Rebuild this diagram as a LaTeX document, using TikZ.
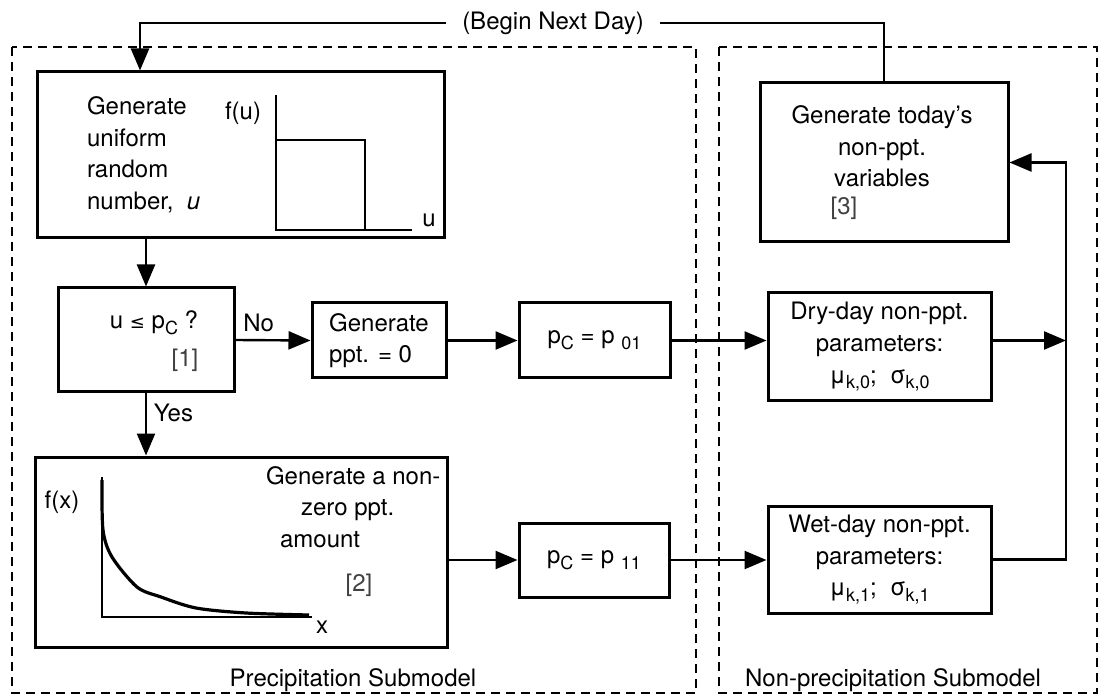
\documentclass[tikz,border=0pt]{standalone}
\usepackage{fontspec}
\setmainfont{TeX Gyre Heros}
\newfontfamily\symf{DejaVu Sans}
\usepackage{tikz}
\usetikzlibrary{arrows.meta,positioning}
\definecolor{taggray}{gray}{0.25}
\newcommand{\lowsub}[1]{\raisebox{-0.45ex}{\small #1}}

\begin{document}
\begin{tikzpicture}[x=0.5pt,y=-0.5pt,
    every node/.style={font=\fontsize{12}{15.8}\selectfont},
    box/.style={draw,line width=1.5pt,inner sep=0pt},
    arr/.style={-{Triangle[length=11pt,width=9pt]},line width=1.2pt},
    zone/.style={draw,line width=1.3pt,dash pattern=on 4.5pt off 3pt},
    axes/.style={line width=1.2pt},
    tag/.style={text=taggray}]
  \useasboundingbox (0,0) rectangle (1101,699);
  % submodel frames
  \draw[zone] (12,47) rectangle (696,693);
  \draw[zone] (719,47) rectangle (1097,693);
  \node (prec) at (353,680) {Precipitation Submodel};
  \node (nonprec) at (893,680) {Non-precipitation Submodel};

  % boxes
  \node[box,minimum width=203.5pt,minimum height=83pt] (b1) at (241,155) {};
  \node[box,minimum width=88pt,minimum height=52pt] (b2) at (146,340) {};
  \node[box,minimum width=67pt,minimum height=37.5pt,align=left] (b3) at (379,340.5) {Generate\\ppt. = 0};
  \node[box,minimum width=75.5pt,minimum height=37.5pt] (b4) at (594.5,340.5) {p\lowsub{C} = p \lowsub{01}};
  \node[box,minimum width=111.5pt,minimum height=54pt,align=center] (b5) at (879.5,347)
    {Dry-day non-ppt.\\parameters:\\μ\lowsub{k,0};\ \ σ\lowsub{k,0}};
  \node[box,minimum width=124pt,minimum height=79.5pt] (b6) at (884,162.5) {};
  \node[box,minimum width=206pt,minimum height=95pt] (b7) at (241,552) {};
  \node[box,minimum width=75pt,minimum height=37pt] (b8) at (594,560) {p\lowsub{C} = p \lowsub{11}};
  \node[box,minimum width=111.5pt,minimum height=53.5pt,align=center] (b9) at (879.5,559.5)
    {Wet-day non-ppt.\\parameters:\\μ\lowsub{k,1};\ \ σ\lowsub{k,1}};

  % texts inside boxes
  \node[anchor=west,align=left] (b1text) at (80,155) {Generate\\uniform\\random\\number,\ \ \textit{u}};
  \node (b2text) at (154,323) {u {\symf\small ≤} p\lowsub{C} ?};
  \node[align=center] (b6text) at (882,146.5) {Generate today's\\non-ppt.\\variables};
  \node[anchor=west,align=left] (b7text) at (259,507)
    {Generate a non-\\\hspace*{17.5pt}zero ppt.\\\hspace*{7pt}amount};
  \node[tag] (tag1) at (185,360) {[1]};
  \node[tag] (tag2) at (359,585) {[2]};
  \node[tag] (tag3) at (844,208) {[3]};

  % uniform density
  \draw[axes] (276,95) -- (276,230) -- (412,230);
  \draw[axes] (276,140) -- (365,140) -- (365,230);
  \node (fu) at (243,113) {f(u)};
  \node (u) at (429,220) {u};
  % amount density
  \draw[axes] (102,477) -- (102,617) -- (312,617);
  \draw[line width=1.6pt] plot[smooth] coordinates
    {(102,480) (103,530) (112,557) (137,587) (161,597) (196,608) (246,613) (309,615)};
  \node (fx) at (62,502) {f(x)};
  \node (x) at (322,627) {x};

  % connectors
  \coordinate (dayL) at (140,23);
  \coordinate (rail) at (1066,0);
  \draw[arr] (b6.north) -- (b6.north |- dayL) -- (dayL) -- (dayL |- b1.north);
  \node[fill=white,inner xsep=8pt] (nextday) at (553,23) {(Begin Next Day)};
  \draw[arr] (b1.south -| b2.north) -- (b2.north);
  \draw[arr] (b2.east) -- (b3.west) node[pos=0,above right] {No};
  \draw[arr] (b3) -- (b4);
  \draw[arr] (b4.east) -- (b4.east -| b5.west);
  \draw[arr] (b2.south) -- (b2.south |- b7.north) node[pos=0.32,right] {Yes};
  \draw[arr] (b7.east |- b8) -- (b8.west);
  \draw[arr] (b8.east) -- (b8.east -| b9.west);
  \draw[arr] (b5.east |- b4.east) -- (rail |- b4.east);
  \draw[arr] (b9.east) -- (b9.east -| rail) |- (b6.east);
\end{tikzpicture}
\end{document}
